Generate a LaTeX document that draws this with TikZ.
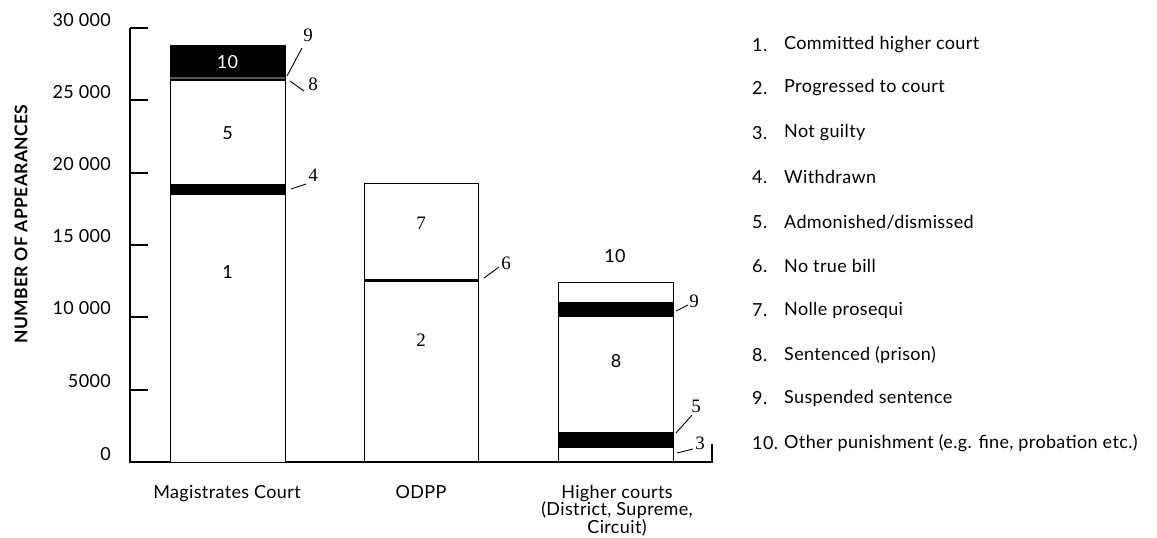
\documentclass[tikz,border=0pt]{standalone}
\usepackage{fontspec}
\setmainfont[LetterSpace=2]{Lato}
\newfontfamily\serifnum{Liberation Serif}
\begin{document}
\begin{tikzpicture}[x=1pt,y=-1pt,
  every node/.style={inner sep=0pt, font=\fontsize{18}{19}\selectfont},
  ticklab/.style={anchor=east},
  barline/.style={draw=black, line width=0.8pt},
  band/.style={fill=black},
  leader/.style={draw=black, line width=0.9pt},
  sidelab/.style={font=\fontsize{19}{20}\serifnum},
  serlab/.style={font=\fontsize{19}{20}\serifnum},
  legnum/.style={anchor=west},
  legtxt/.style={anchor=west},
  catlab/.style={anchor=north, align=center, font=\fontsize{18}{17.5}\selectfont}]
\useasboundingbox (0,0) rectangle (1157,538);
\fill[white] (0,0) rectangle (1157,538);

% axes
\draw[line width=1.4pt] (130,28) -- (130,462) -- (712,462) -- (712,444);
\foreach \yy in {28,100,173,245,317,390,462} \draw[line width=1.2pt] (130,\yy) -- (148,\yy);

\node[ticklab] (t30) at (111,20) {30 000};
\node[ticklab] (t25) at (111,92) {25 000};
\node[ticklab] (t20) at (111,164) {20 000};
\node[ticklab] (t15) at (111,236) {15 000};
\node[ticklab] (t10) at (111,308) {10 000};
\node[ticklab] (t5) at (111,381) {5000};
\node[ticklab] (t0) at (111,454) {0};

\node[rotate=90, font=\fontsize{17.5}{18}\selectfont\bfseries] (ytitle) at (21,224) {NUMBER OF APPEARANCES};

% bar 1
\fill[white] (170,45) rectangle (285,462);
\draw[barline] (170,45) rectangle (285,462);
\fill[band] (170,45) rectangle (285,77);
\fill[black!65] (170,77) rectangle (285,79);
\fill[band] (170,79) rectangle (285,81);
\fill[band] (170,184) rectangle (285,195);
\node[text=white] (b1ten) at (227.5,62) {10};
\node (b1five) at (227.5,133) {5};
\node (b1one) at (227.5,272) {1};

% bar 2
\draw[barline] (364,183) rectangle (478,462);
\fill[band] (364,278.5) rectangle (478,281.5);
\node[serlab] (b2seven) at (421,223) {7};
\node[serlab] (b2two) at (421,340) {2};

% bar 3
\draw[barline] (558,282) rectangle (673,462);
\fill[band] (558,302) rectangle (673,317);
\fill[band] (558,432) rectangle (673,448);
\node (b3ten) at (615,256) {10};
\node (b3eight) at (616,361) {8};

% side labels and leaders
\node[sidelab] (s9a) at (308,35) {9};
\node[sidelab] (s8a) at (313,84) {8};
\node[sidelab] (s4) at (313,175) {4};
\node[sidelab] (s6) at (506,263) {6};
\node[sidelab] (s9b) at (694,301) {9};
\node[sidelab] (s5) at (696,406) {5};
\node[sidelab] (s3) at (700,443) {3};
\coordinate (p9a) at (287,76);
\coordinate (p8a) at (290,81);
\coordinate (p4) at (291,189);
\coordinate (p6) at (484,278);
\coordinate (p9b) at (676,311);
\coordinate (p5) at (676,433);
\coordinate (p3) at (677,453);
\coordinate (q9a) at (302,48);
\coordinate (q8a) at (304,91);
\coordinate (q4) at (306,184);
\coordinate (q6) at (499,267);
\coordinate (q9b) at (688,305);
\coordinate (q5) at (692,415);
\coordinate (q3) at (693,449);
\draw[leader] (p9a) -- (q9a);
\draw[leader] (p8a) -- (q8a);
\draw[leader] (p4) -- (q4);
\draw[leader] (p6) -- (q6);
\draw[leader] (p9b) -- (q9b);
\draw[leader] (p5) -- (q5);
\draw[leader] (p3) -- (q3);

% category labels
\node[catlab] (c1) at (227,485) {Magistrates Court};
\node[catlab] (c2) at (421,485) {ODPP};
\node[catlab] (c3) at (617,485) {Higher courts\\(District, Supreme,\\Circuit)};

% legend
\foreach \n/\t/\yy in {1/{Committed higher court}/45, 2/{Progressed to court}/88, 3/{Not guilty}/133, 4/{Withdrawn}/177, 5/{Admonished/dismissed}/222, 6/{No true bill}/266, 7/{Nolle prosequi}/310, 8/{Sentenced (prison)}/355, 9/{Suspended sentence}/398, 10/{Other punishment (e.g. fine, probation etc.)}/443}{
  \node[legnum] (ln\n) at (752,\yy) {\n.};
  \node[legtxt] (lt\n) at (784,\yy) {\t};
}
\end{tikzpicture}
\end{document}
